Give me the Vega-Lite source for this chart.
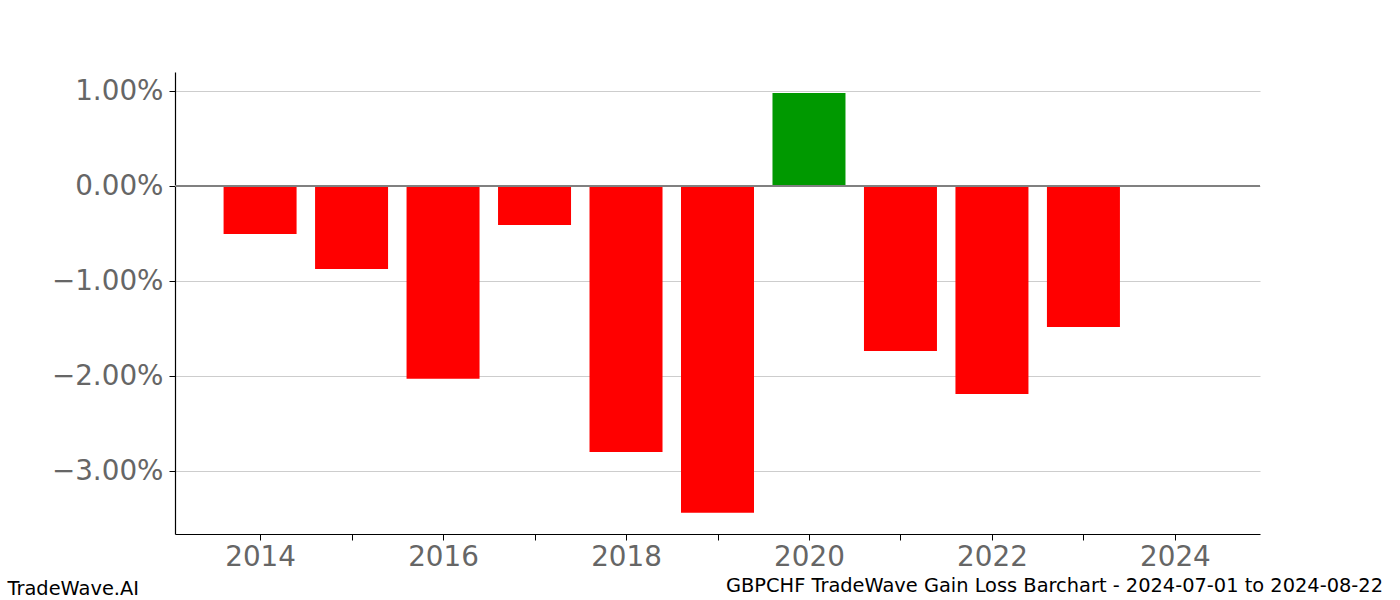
{
  "$schema": "https://vega.github.io/schema/vega-lite/v6.json",
  "width": 1085,
  "height": 462,
  "autosize": {"type": "none"},
  "padding": {"left": 175, "top": 72, "right": 140, "bottom": 66},
  "background": "white",
  "config": {
    "font": "DejaVu Sans",
    "view": {"stroke": null}
  },
  "title": {
    "text": "GBPCHF TradeWave Gain Loss Barchart - 2024-07-01 to 2024-08-22",
    "orient": "bottom",
    "anchor": "end",
    "frame": "group",
    "fontSize": 19.4,
    "fontWeight": "normal",
    "color": "#000000",
    "font": "DejaVu Sans",
    "baseline": "alphabetic",
    "dx": 123,
    "offset": -5
  },
  "data": {
    "values": [
      {"year": 2014, "gain": -0.00505},
      {"year": 2015, "gain": -0.00874},
      {"year": 2016, "gain": -0.0203},
      {"year": 2017, "gain": -0.0041},
      {"year": 2018, "gain": -0.028},
      {"year": 2019, "gain": -0.0344},
      {"year": 2020, "gain": 0.0098},
      {"year": 2021, "gain": -0.01737},
      {"year": 2022, "gain": -0.0219},
      {"year": 2023, "gain": -0.01484},
      {"year": 2024, "gain": 0}
    ]
  },
  "layer": [
    {
      "mark": {"type": "bar", "size": 73},
      "encoding": {
        "x": {
          "field": "year",
          "type": "quantitative",
          "scale": {"domain": [2013.07, 2024.93], "nice": false, "zero": false, "padding": 0},
          "axis": {
            "values": [2014, 2015, 2016, 2017, 2018, 2019, 2020, 2021, 2022, 2023, 2024],
            "labelExpr": "datum.value % 2 == 0 ? format(datum.value, 'd') : ''",
            "grid": false,
            "domainColor": "#000000",
            "domainWidth": 1.2,
            "tickColor": "#000000",
            "tickSize": 6,
            "tickWidth": 1,
            "labelFontSize": 27.8,
            "labelColor": "#666666",
            "labelPadding": 3,
            "labelFont": "DejaVu Sans",
            "title": "TradeWave.AI",
            "titleFontSize": 19.4,
            "titleFontWeight": "normal",
            "titleColor": "#000000",
            "titleFont": "DejaVu Sans",
            "titleAnchor": "start",
            "titleAlign": "left",
            "titleBaseline": "alphabetic",
            "titleX": -168,
            "titleY": 60
          }
        },
        "y": {
          "field": "gain",
          "type": "quantitative",
          "scale": {"domain": [-0.03663, 0.012], "nice": false, "zero": false},
          "axis": {
            "values": [-0.03, -0.02, -0.01, 0, 0.01],
            "format": ".2%",
            "grid": true,
            "gridColor": "#c0c0c0",
            "gridWidth": 0.8,
            "domainColor": "#000000",
            "domainWidth": 1.2,
            "tickColor": "#000000",
            "tickSize": 6,
            "tickWidth": 1,
            "labelFontSize": 27.8,
            "labelColor": "#666666",
            "labelPadding": 6,
            "labelFont": "DejaVu Sans",
            "title": null
          }
        },
        "color": {
          "condition": {"test": "datum.gain > 0", "value": "#009900"},
          "value": "#ff0000"
        }
      }
    },
    {
      "mark": {"type": "rule", "color": "#808080", "strokeWidth": 1.3},
      "encoding": {"y": {"datum": 0, "type": "quantitative"}}
    }
  ]
}
